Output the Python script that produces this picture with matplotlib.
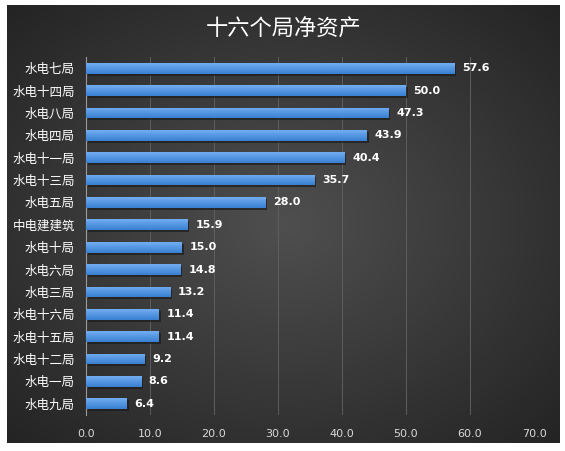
import numpy as np
import matplotlib
matplotlib.use("Agg")
import matplotlib.pyplot as plt

plt.rcParams['font.family'] = ['Noto Sans CJK SC', 'DejaVu Sans']

# data, top to bottom as in the chart
units = ['水电七局', '水电十四局', '水电八局', '水电四局', '水电十一局', '水电十三局',
         '水电五局', '中电建建筑', '水电十局', '水电六局', '水电三局', '水电十六局',
         '水电十五局', '水电十二局', '水电一局', '水电九局']
net_assets = [57.6, 50.0, 47.3, 43.9, 40.4, 35.7, 28.0, 15.9, 15.0, 14.8, 13.2,
              11.4, 11.4, 9.2, 8.6, 6.4]
x_ticks = [0, 10, 20, 30, 40, 50, 60, 70]

W, H = 565, 451
fig = plt.figure(figsize=(W / 100, H / 100), dpi=100)
fig.patch.set_facecolor('white')

# dark panel with radial gradient
bg = fig.add_axes([7 / W, 1 - 443 / H, (560 - 7) / W, (443 - 5) / H])
bg.set_axis_off()
yy, xx = np.mgrid[-1:1:200j, -1:1:250j]
r = np.sqrt(xx ** 2 + yy ** 2) / np.sqrt(2)
shade = 0.31 - 0.17 * r
img = np.dstack([shade, shade, shade])
bg.imshow(img, extent=[0, 1, 0, 1], aspect='auto', interpolation='bilinear')
bg.set_xlim(0, 1)
bg.set_ylim(0, 1)

bg.text(0.5, 1 - 24 / 438, '十六个局净资产', ha='center', va='center',
        color='white', fontsize=16, fontweight='medium', transform=bg.transAxes)

# plot area
x0, x1 = 86, 534
y0, y1 = 57, 415
ax = fig.add_axes([x0 / W, 1 - y1 / H, (x1 - x0) / W, (y1 - y0) / H])
ax.set_facecolor('none')
ypos = np.arange(len(units))

ax.set_xticks(x_ticks)
ax.set_xticklabels([f'{t:.1f}' for t in x_ticks], color='#d8d8d8', fontsize=8,
                   family=['DejaVu Sans'])
ax.set_yticks(ypos)
ax.set_yticklabels(units, color='white', fontsize=9)
ax.tick_params(length=0, pad=8)
ax.tick_params(axis='x', pad=10)
for s in ['top', 'right', 'bottom']:
    ax.spines[s].set_visible(False)
ax.spines['left'].set_color('#9a9a9a')
ax.spines['left'].set_linewidth(0.8)
ax.grid(axis='x', color='#5e5e5e', linewidth=0.7)
ax.set_axisbelow(True)

bh = 0.48
# shadow
ax.barh(ypos + 0.09, net_assets, height=bh, left=0.25, color='#1c1c1c', alpha=0.7,
        zorder=2)
bars = ax.barh(ypos, net_assets, height=bh, color='#4a90dc', zorder=3)

grad = np.linspace(0, 1, 64).reshape(-1, 1)
top = np.array([0.45, 0.68, 0.95])
bot = np.array([0.22, 0.50, 0.82])
gimg = top * (1 - grad[..., None]) + bot * grad[..., None]
gimg = gimg.repeat(2, axis=1)
for b in bars:
    x, y = b.get_x(), b.get_y()
    w, h = b.get_width(), b.get_height()
    im = ax.imshow(gimg, extent=[x, x + w, y + h, y], aspect='auto', zorder=4,
                   interpolation='bilinear')
    im.set_clip_path(b)

ax.set_xlim(0, 70)
ax.set_ylim(len(units) - 0.5, -0.5)

for yv, v in zip(ypos, net_assets):
    ax.text(v + 1.2, yv, f'{v:.1f}', va='center', ha='left', color='white',
            fontsize=8, fontweight='bold', family=['DejaVu Sans'], zorder=5)

fig.savefig('out.png', dpi=100, facecolor='white')
